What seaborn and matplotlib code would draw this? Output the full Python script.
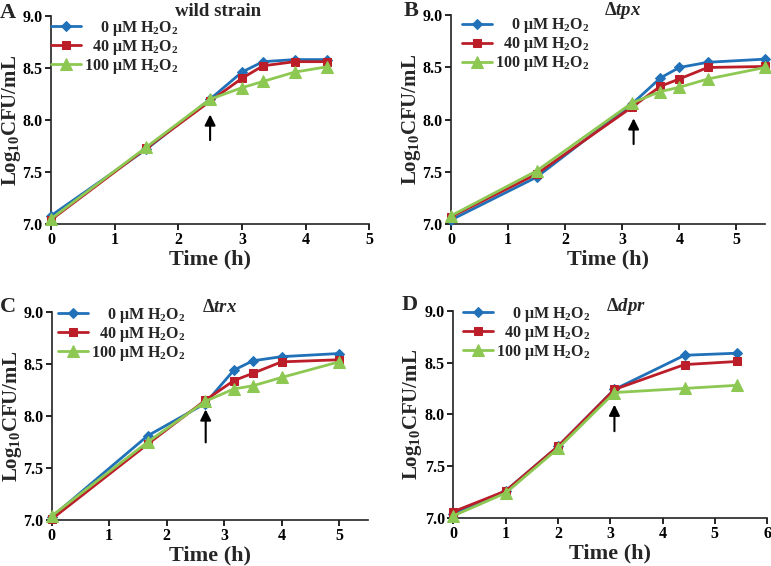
import numpy as np
import pandas as pd
import matplotlib
matplotlib.use("Agg")
import matplotlib.pyplot as plt
import seaborn as sns

# ---- data ----
doses = ["0", "40", "100"]
dose_labels = ["    0 μM H$_2$O$_2$", "  40 μM H$_2$O$_2$", "100 μM H$_2$O$_2$"]

# A: wild strain
wt_time = [0, 1.5, 2.5, 3.0, 3.33, 3.83, 4.33]
wt_0 = [7.08, 7.72, 8.20, 8.46, 8.56, 8.58, 8.58]
wt_40 = [7.04, 7.73, 8.18, 8.40, 8.52, 8.56, 8.56]
wt_100 = [7.05, 7.74, 8.20, 8.31, 8.37, 8.46, 8.51]

# B: delta tpx
tpx_time = [0, 1.5, 3.17, 3.67, 4.0, 4.5, 5.5]
tpx_0 = [7.04, 7.45, 8.15, 8.40, 8.50, 8.55, 8.58]
tpx_40 = [7.07, 7.48, 8.12, 8.32, 8.39, 8.50, 8.51]
tpx_100 = [7.08, 7.51, 8.16, 8.27, 8.31, 8.39, 8.50]

# C: delta trx
trx_time = [0, 1.67, 2.67, 3.17, 3.5, 4.0, 5.0]
trx_0 = [7.03, 7.81, 8.12, 8.44, 8.53, 8.57, 8.60]
trx_40 = [7.01, 7.73, 8.15, 8.34, 8.41, 8.52, 8.54]
trx_100 = [7.04, 7.75, 8.14, 8.26, 8.29, 8.37, 8.52]

# D: delta dpr
dpr_time = [0, 1.0, 2.0, 3.08, 4.42, 5.42]
dpr_0 = [7.04, 7.26, 7.69, 8.24, 8.57, 8.59]
dpr_40 = [7.06, 7.26, 7.69, 8.24, 8.48, 8.51]
dpr_100 = [7.02, 7.24, 7.67, 8.21, 8.25, 8.28]

# arrow (time of H2O2 addition): x, tip, tail
arrow_x = [2.5, 3.2, 2.68, 3.08]
arrow_tip = [8.08, 8.04, 8.09, 8.12]
arrow_tail = [7.78, 7.74, 7.72, 7.81]

titles = ["wild strain", r"$\Delta\mathit{tpx}$", r"$\Delta\mathit{trx}$", r"$\Delta\mathit{dpr}$"]
letters = ["A", "B", "C", "D"]
xmax = [5, 5.5, 5.5, 6]
xticks = [range(0, 6), range(0, 6), range(0, 6), range(0, 7)]

panels = [
    (wt_time, [wt_0, wt_40, wt_100]),
    (tpx_time, [tpx_0, tpx_40, tpx_100]),
    (trx_time, [trx_0, trx_40, trx_100]),
    (dpr_time, [dpr_0, dpr_40, dpr_100]),
]

# ---- style ----
sns.set_style("ticks")
plt.rcParams["font.family"] = ["Liberation Serif", "DejaVu Serif"]
plt.rcParams["font.weight"] = "bold"
plt.rcParams["mathtext.fontset"] = "custom"
plt.rcParams["mathtext.rm"] = "Liberation Serif:bold"
plt.rcParams["mathtext.it"] = "Liberation Serif:italic:bold"
plt.rcParams["mathtext.bf"] = "Liberation Serif:bold"

colors = {"0": "#2071b8", "40": "#bb1e28", "100": "#8dc853"}
markers = {"0": "D", "40": "s", "100": "^"}
msizes = {"0": 5.5, "40": 6, "100": 8}

fig = plt.figure(figsize=(7.71, 5.66), dpi=100)
positions = [
    [0.066, 0.604, 0.413, 0.368],
    [0.585, 0.604, 0.407, 0.369],
    [0.067, 0.081, 0.410, 0.368],
    [0.588, 0.085, 0.407, 0.366],
]
legend_anchor = [(0.0, 0.985), (0.035, 0.995), (0.02, 1.03), (0.03, 1.03)]
ylabel_x = [-0.087, -0.09, -0.089, -0.092]
title_x = [0.525, 0.548, 0.53, 0.55]
letter_pos = [(0.0, 0.968), (0.524, 0.972), (0.0, 0.449), (0.521, 0.452)]

for i, (t, series) in enumerate(panels):
    ax = fig.add_axes(positions[i])
    for d, lab, vals in zip(doses, dose_labels, series):
        df = pd.DataFrame({"time": t, "logcfu": vals})
        sns.lineplot(data=df, x="time", y="logcfu", ax=ax, color=colors[d],
                     marker=markers[d], markersize=msizes[d], markeredgecolor=colors[d],
                     linewidth=2, label=lab, clip_on=False, zorder=3)
    ax.annotate("", xy=(arrow_x[i], arrow_tip[i]), xytext=(arrow_x[i], arrow_tail[i]),
                arrowprops=dict(arrowstyle="-|>", color="black", lw=1.5, mutation_scale=16))
    ax.set_xlim(0, xmax[i])
    ax.set_ylim(7.0, 9.0)
    ax.set_xticks(list(xticks[i]))
    ax.set_yticks([7.0, 7.5, 8.0, 8.5, 9.0])
    ax.set_yticklabels(["7.0", "7.5", "8.0", "8.5", "9.0"])
    ax.tick_params(labelsize=11.5, length=4, width=1.2, pad=2, colors="black")
    for lab in ax.get_xticklabels() + ax.get_yticklabels():
        lab.set_fontweight("bold")
    for s in ["left", "bottom"]:
        ax.spines[s].set_linewidth(1.2)
        ax.spines[s].set_color("#222222")
    sns.despine(ax=ax)
    ax.set_xlabel("Time (h)", fontsize=16, fontweight="bold", labelpad=1)
    ax.set_ylabel("Log$_{10}$CFU/mL", fontsize=15, fontweight="bold")
    ax.yaxis.set_label_coords(ylabel_x[i], 0.5)
    ax.text(title_x[i], 1.0, titles[i], transform=ax.transAxes, ha="center",
            va="baseline", fontsize=13.5, fontweight="bold")
    ax.legend(loc="upper left", bbox_to_anchor=legend_anchor[i], frameon=False,
              fontsize=11.5, borderpad=0, borderaxespad=0, handlelength=1.9,
              handletextpad=0.15, labelspacing=0.0)
    fig.text(letter_pos[i][0], letter_pos[i][1], letters[i], fontsize=16,
             fontweight="bold", va="baseline", ha="left")

fig.savefig("out.png", dpi=100)
